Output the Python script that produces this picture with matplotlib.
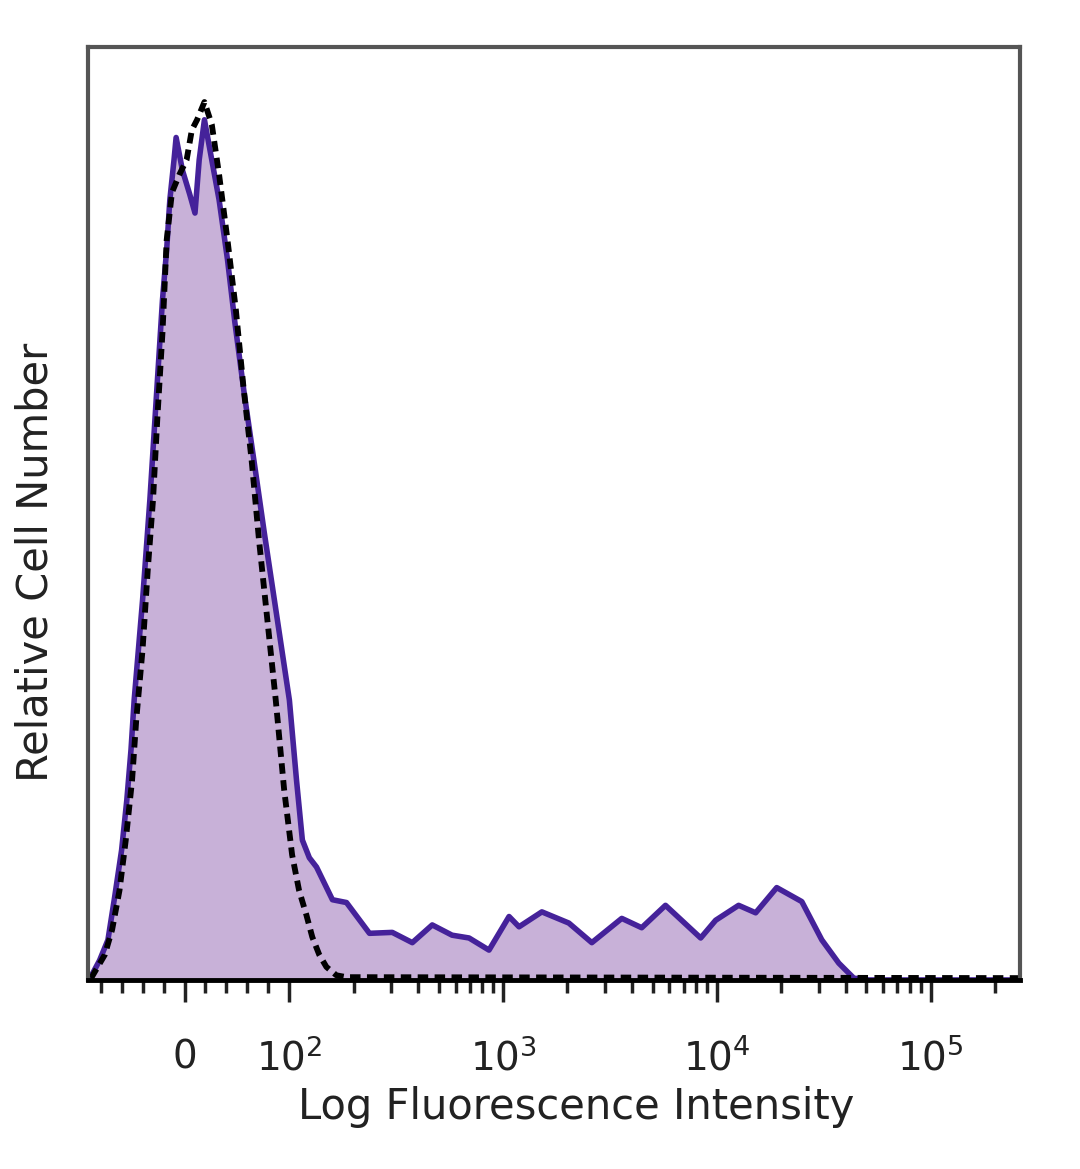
import numpy as np
import matplotlib
matplotlib.use("Agg")
import matplotlib.pyplot as plt
from matplotlib.ticker import FixedLocator, NullLocator

# stained sample (solid purple, filled)
stain_x = [-90, -81, -73, -67, -60, -55, -51, -48, -40, -33, -27, -21, -17, -14, -10, -8,
           -2, 5, 10, 14, 19, 26, 33, 41, 48, 57, 69, 76, 84, 92, 100,
           108, 115, 124, 134, 159, 185, 237, 303, 376, 466, 577, 693, 859,
           1066, 1187, 1518, 2030, 2600, 3590, 4450, 5750, 8400, 9870,
           12640, 15190, 19060, 24970, 30970, 37200, 43700, 51400, 262144]
stain_y = [0.2, 2.1, 4.3, 8.6, 13.9, 19.3, 24.7, 30.0, 40.7, 51.5, 62.2, 72.9, 78.3, 83.6, 87.9, 90.3,
           86.8, 84.2, 82.2, 87.9, 92.2, 87.9, 83.6, 77.2, 70.5, 62.8, 53.5, 48.0, 42.0, 36.0, 30.0,
           21.4, 15.0, 13.1, 12.1, 8.6, 8.3, 5.0, 5.1, 4.0, 5.9, 4.8, 4.5, 3.2,
           6.8, 5.7, 7.3, 6.1, 4.0, 6.6, 5.6, 8.0, 4.5, 6.4,
           8.0, 7.2, 9.9, 8.4, 4.3, 1.8, 0.2, 0.0, 0.0]

# isotype control (dashed black)
ctrl_x = [-89, -76, -69, -62, -56, -50, -46, -40, -35, -30, -26, -21, -17, -12, -5, 2, 7, 12, 19,
          26, 33, 41, 49, 56, 64, 71, 79, 87, 95, 103, 111, 120, 128, 138, 149, 166, 185, 262144]
ctrl_y = [0.2, 2.7, 5.4, 9.6, 15.0, 21.4, 27.9, 35.4, 44.0, 51.5, 60.0, 69.4, 79.3, 84.4, 86.3, 87.9, 91.1, 92.2, 94.1,
          91.7, 86.3, 79.3, 71.8, 63.8, 55.7, 47.2, 38.6, 30.0, 20.4, 13.4, 9.6, 7.0, 4.6, 2.7, 1.4, 0.5, 0.3, 0.2]

major_ticks = [0, 100, 1000, 10000, 100000]
major_labels = ["0", r"$10^{2}$", r"$10^{3}$", r"$10^{4}$", r"$10^{5}$"]
minor_ticks = [-80, -60, -40, -20, 20, 40, 60, 80] + \
    [m * 10 ** e for e in range(2, 6) for m in range(2, 10) if m * 10 ** e < 262144]

plt.rcParams['font.family'] = ['DejaVu Sans']
plt.rcParams['mathtext.fontset'] = 'dejavusans'

fig = plt.figure(figsize=(10.8, 11.69), dpi=100)
ax = fig.add_axes([0.0815, 0.1617, 0.8630, 0.7981])

ax.set_xscale('symlog', linthresh=100, linscale=0.4416)
ax.fill_between(stain_x, stain_y, 0, color='#c8b1d8', lw=0)
ax.plot(stain_x, stain_y, color='#45229a', lw=4, solid_joinstyle='round')
ax.plot(ctrl_x, ctrl_y, color='black', lw=4.2, ls=(0, (1.8, 1.1)))

ax.set_xlim(-92, 262144)
ax.set_ylim(0, 100)

ax.xaxis.set_major_locator(FixedLocator(major_ticks))
ax.set_xticklabels(major_labels)
ax.xaxis.set_minor_locator(FixedLocator(minor_ticks))
ax.yaxis.set_major_locator(NullLocator())
ax.yaxis.set_minor_locator(NullLocator())
ax.tick_params(axis='x', which='major', direction='out', length=16, width=2.5,
               labelsize=28, pad=26, colors='#222222')
ax.tick_params(axis='x', which='minor', direction='out', length=9, width=2.5, colors='#222222')

for side in ['left', 'top', 'right']:
    ax.spines[side].set_color('#555555')
    ax.spines[side].set_linewidth(3)
ax.spines['bottom'].set_color('black')
ax.spines['bottom'].set_linewidth(3.5)

ax.set_xlabel("Log Fluorescence Intensity", fontsize=30, labelpad=6, color='#222222', x=0.524)
fig.text(0.033, 0.519, "Relative Cell Number", rotation=90, fontsize=30,
         ha='center', va='center', color='#222222')

fig.savefig("out.png", dpi=100, facecolor='white')
